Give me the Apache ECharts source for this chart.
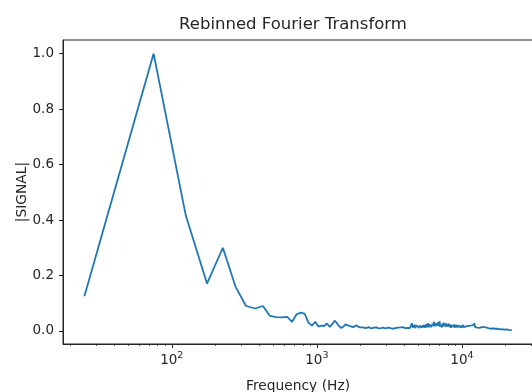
<!DOCTYPE html>
<html>
<head>
<meta charset="utf-8">
<script src="https://cdn.jsdelivr.net/npm/echarts@6/dist/echarts.min.js"></script>
<style>
  html, body { margin: 0; padding: 0; background: #fff; }
  #chart { width: 532px; height: 392px; }
</style>
</head>
<body>
<div id="chart"></div>
<script>
// Rebinned spectrum: 50 Hz bins, centres at 25, 75, 125 ... 22025 Hz
const binWidth = 50;
const firstBinCentre = 25;

// |SIGNAL| per bin, in bin order
const magnitude = [
  0.125, 1.000, 0.416, 0.171, 0.300, 0.160, 0.090, 0.081, 0.090, 0.054,
  0.050, 0.049, 0.051, 0.033, 0.060, 0.066, 0.062, 0.030, 0.019, 0.033,
  0.016, 0.019, 0.018, 0.027, 0.015, 0.024, 0.037, 0.028, 0.017, 0.011,
  0.016, 0.024, 0.020, 0.018, 0.016, 0.014, 0.017, 0.020, 0.016, 0.013,
  0.012, 0.013, 0.011, 0.010, 0.012, 0.014, 0.011, 0.009, 0.010, 0.012,
  0.011, 0.013, 0.012, 0.009, 0.008, 0.010, 0.011, 0.012, 0.010, 0.009,
  0.010, 0.012, 0.014, 0.011, 0.009, 0.010, 0.008, 0.009, 0.011, 0.010,
  0.009, 0.010, 0.012, 0.010, 0.011, 0.013, 0.010, 0.012, 0.014, 0.011,
  0.012, 0.010, 0.013, 0.015, 0.011, 0.012, 0.014, 0.010, 0.013, 0.016,
  0.028, 0.012, 0.018, 0.014, 0.022, 0.010, 0.016, 0.020, 0.013, 0.024,
  0.015, 0.011, 0.019, 0.026, 0.014, 0.017, 0.012, 0.021, 0.016, 0.013,
  0.022, 0.018, 0.011, 0.025, 0.015, 0.019, 0.028, 0.013, 0.017, 0.023,
  0.016, 0.030, 0.014, 0.020, 0.012, 0.026, 0.018, 0.015, 0.033, 0.017,
  0.022, 0.014, 0.027, 0.019, 0.012, 0.024, 0.016, 0.031, 0.018, 0.021,
  0.035, 0.015, 0.023, 0.019, 0.028, 0.013, 0.026, 0.020, 0.016, 0.030,
  0.018, 0.024, 0.014, 0.022, 0.027, 0.015, 0.019, 0.013, 0.025, 0.017,
  0.021, 0.012, 0.018, 0.026, 0.014, 0.020, 0.016, 0.023, 0.011, 0.019,
  0.015, 0.022, 0.017, 0.013, 0.020, 0.016, 0.024, 0.012, 0.018, 0.014,
  0.019, 0.016, 0.022, 0.013, 0.017, 0.021, 0.012, 0.018, 0.015, 0.020,
  0.014, 0.017, 0.023, 0.013, 0.016, 0.019, 0.012, 0.018, 0.015, 0.021,
  0.016, 0.013, 0.019, 0.015, 0.022, 0.014, 0.017, 0.012, 0.020, 0.016,
  0.018, 0.013, 0.016, 0.021, 0.014, 0.017, 0.012, 0.019, 0.015, 0.018,
  0.013, 0.020, 0.016, 0.014, 0.018, 0.012, 0.017, 0.015, 0.019, 0.013,
  0.022, 0.016, 0.014, 0.025, 0.017, 0.013, 0.020, 0.015, 0.018, 0.024,
  0.016, 0.021, 0.014, 0.019, 0.027, 0.015, 0.018, 0.013, 0.022, 0.016,
  0.014, 0.019, 0.015, 0.017, 0.012, 0.018, 0.014, 0.016, 0.013, 0.017,
  0.015, 0.012, 0.016, 0.014, 0.011, 0.015, 0.013, 0.017, 0.012, 0.014,
  0.013, 0.016, 0.011, 0.014, 0.012, 0.015, 0.013, 0.011, 0.014, 0.012,
  0.013, 0.011, 0.014, 0.012, 0.010, 0.013, 0.011, 0.012, 0.014, 0.010,
  0.012, 0.011, 0.013, 0.010, 0.012, 0.011, 0.009, 0.012, 0.010, 0.011,
  0.010, 0.012, 0.009, 0.011, 0.010, 0.008, 0.011, 0.009, 0.010, 0.012,
  0.009, 0.010, 0.008, 0.011, 0.009, 0.010, 0.008, 0.009, 0.011, 0.008,
  0.009, 0.010, 0.008, 0.009, 0.007, 0.010, 0.008, 0.009, 0.007, 0.009,
  0.008, 0.007, 0.009, 0.008, 0.010, 0.007, 0.008, 0.009, 0.007, 0.008,
  0.008, 0.007, 0.009, 0.006, 0.008, 0.007, 0.009, 0.007, 0.006, 0.008,
  0.007, 0.008, 0.006, 0.007, 0.009, 0.006, 0.007, 0.008, 0.006, 0.007,
  0.007, 0.006, 0.008, 0.006, 0.007, 0.005, 0.007, 0.006, 0.008, 0.006,
  0.006, 0.007, 0.005, 0.006, 0.007, 0.006, 0.005, 0.007, 0.006, 0.005,
  0.006, 0.005, 0.007, 0.006, 0.005, 0.006, 0.004, 0.006, 0.005, 0.006,
  0.005, 0.006, 0.004, 0.005, 0.006, 0.005, 0.004, 0.006, 0.005, 0.004,
  0.005, 0.006, 0.004, 0.005, 0.004, 0.006, 0.005, 0.004, 0.005, 0.004,
  0.005, 0.004, 0.006, 0.004, 0.005, 0.004, 0.005, 0.003, 0.005, 0.004,
  0.004, 0.005, 0.003, 0.004, 0.005, 0.004, 0.003, 0.004, 0.005, 0.004,
  0.003, 0.004, 0.005, 0.003, 0.004, 0.003, 0.004, 0.005, 0.003, 0.004,
  0.004
];

// Bin-centre frequency of each magnitude value
const frequency = magnitude.map((_, i) => firstBinCentre + i * binWidth);

const yTicks = [0.0, 0.2, 0.4, 0.6, 0.8, 1.0];
const xMajorTicks = [100, 1000, 10000];
const xMinorTicks = [
  20, 30, 40, 50, 60, 70, 80, 90,
  200, 300, 400, 500, 600, 700, 800, 900,
  2000, 3000, 4000, 5000, 6000, 7000, 8000, 9000,
  20000, 30000
];

const ink = '#262626';
const font = 'DejaVu Sans';

const chart = echarts.init(document.getElementById('chart'), null, { renderer: 'canvas' });

chart.setOption({
  animation: false,
  backgroundColor: '#fff',
  title: {
    text: 'Rebinned Fourier Transform',
    left: 293,
    top: 16,
    padding: 0,
    textAlign: 'center',
    textStyle: { fontFamily: font, fontSize: 16.5, fontWeight: 'normal', color: ink }
  },
  grid: {
    left: 63, top: 40, width: 470, height: 304,
    outerBoundsMode: 'none',
    containLabel: false,
    show: true, borderColor: ink, borderWidth: 1, backgroundColor: 'transparent'
  },
  xAxis: [
    {
      type: 'log', logBase: 10, min: 17.8, max: 30900,
      position: 'bottom',
      name: 'Frequency (Hz)', nameLocation: 'middle', nameGap: 35,
      nameMoveOverlap: false,
      nameTextStyle: { fontFamily: font, fontSize: 13.8, color: ink },
      axisLine: { show: true, onZero: false, lineStyle: { color: ink, width: 1 } },
      axisTick: { show: true, length: 4, lineStyle: { color: ink, width: 1 }, customValues: xMajorTicks },
      axisLabel: {
        show: true, margin: 7, customValues: xMajorTicks,
        formatter: v => '{b|10}{s|' + Math.round(Math.log10(v)) + '}',
        rich: {
          b: { fontFamily: font, fontSize: 13.5, color: ink },
          s: { fontFamily: font, fontSize: 9.5, color: ink, padding: [0, 0, 8, 0] }
        }
      },
      splitLine: { show: false },
      minorTick: { show: false }
    },
    {
      type: 'log', logBase: 10, min: 17.8, max: 30900,
      position: 'bottom',
      axisLine: { show: false, onZero: false },
      axisTick: { show: true, length: 2, lineStyle: { color: ink, width: 0.8 }, customValues: xMinorTicks },
      axisLabel: { show: false },
      splitLine: { show: false }
    }
  ],
  yAxis: {
    type: 'value', min: -0.047, max: 1.049,
    name: '|SIGNAL|', nameLocation: 'middle', nameGap: 34,
    nameMoveOverlap: false,
    nameTextStyle: { fontFamily: font, fontSize: 13.8, color: ink },
    axisLine: { show: true, onZero: false, lineStyle: { color: ink, width: 1 } },
    axisTick: { show: true, length: 4, lineStyle: { color: ink, width: 1 }, customValues: yTicks },
    axisLabel: {
      show: true, margin: 9, customValues: yTicks,
      fontFamily: font, fontSize: 13.5, color: ink,
      formatter: v => v.toFixed(1)
    },
    splitLine: { show: false }
  },
  series: [{
    type: 'line',
    xAxisIndex: 0,
    data: frequency.map((f, i) => [f, magnitude[i]]),
    showSymbol: false,
    symbol: 'none',
    lineStyle: { color: '#1f77b4', width: 1.8 },
    emphasis: { disabled: true }
  }]
});
</script>
</body>
</html>
